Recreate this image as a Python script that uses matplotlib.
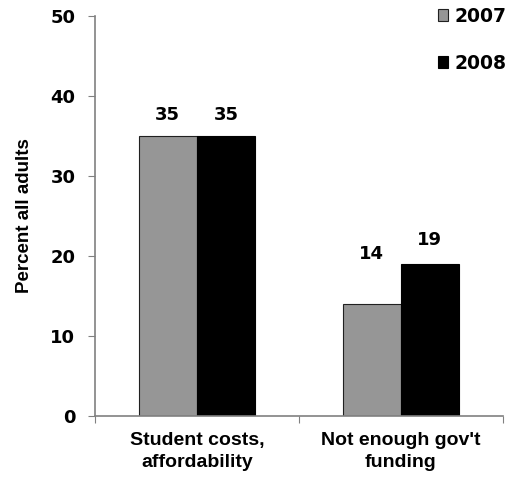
# -*- coding: utf-8 -*-

# import libraries
import numpy as np
import matplotlib.pyplot as plt

# set some parametres
plt.rcParams['font.family'] = ['Liberation Sans', 'DejaVu Sans']
plt.rcParams['font.weight'] = 'bold'
plt.rcParams['savefig.facecolor'] = 'white'
num_font = 'DejaVu Sans'

# data
categories = ["Student costs,\naffordability", "Not enough gov't\nfunding"]
years = ["2007", "2008"]
values_2007 = [35, 14]
values_2008 = [35, 19]
colors = ["#969696", "#000000"]

# create the figure
fig = plt.figure(figsize=(5.1, 4.79), dpi=100)
ax = fig.add_axes([0.186, 0.131, 0.8, 0.836])

x = np.arange(len(categories))
w = 0.285
bars1 = ax.bar(x - w/2, values_2007, w, color=colors[0], edgecolor="#202020", linewidth=0.8, label=years[0])
bars2 = ax.bar(x + w/2, values_2008, w, color=colors[1], edgecolor="#000000", linewidth=0.8, label=years[1])

# value labels (the short grey bar has its label lifted higher)
offsets = [[15, 36], [15, 17]]
for i, (b1, b2) in enumerate(zip(bars1, bars2)):
    for j, b in enumerate([b1, b2]):
        ax.annotate(str(int(b.get_height())), (b.get_x() + b.get_width()/2, b.get_height()),
                    xytext=(0, offsets[j][i]), textcoords="offset points",
                    ha="center", va="center", fontsize=13, fontweight="bold", family=num_font)

# axes
ax.set_xlim(-0.5, 1.5)
ax.set_ylim(0, 50)
ax.set_yticks(range(0, 51, 10))
ax.set_xticks([-0.5, 0.5, 1.5])
ax.set_xticklabels([])
ax.set_xticks(x, minor=True)
ax.set_xticklabels(categories, minor=True, fontsize=14, fontweight="bold", linespacing=1.45)
ax.tick_params(axis="x", which="minor", length=0, pad=11)
ax.tick_params(axis="x", which="major", length=5, color="#808080", direction="out")
ax.tick_params(axis="y", length=5, color="#808080", direction="out", pad=9)
for lbl in ax.get_yticklabels():
    lbl.set_fontweight("bold")
    lbl.set_family(num_font)
    lbl.set_fontsize(13)
for s in ["top", "right"]:
    ax.spines[s].set_visible(False)
for s in ["left", "bottom"]:
    ax.spines[s].set_color("#808080")
    ax.spines[s].set_linewidth(1.2)
ax.set_ylabel("Percent all adults", fontsize=13.5, fontweight="bold")
ax.yaxis.set_label_coords(-0.152, 0.5)

# legend
leg = ax.legend(loc="upper right", bbox_to_anchor=(1.05, 1.065), frameon=False,
                handlelength=0.55, handleheight=0.55, handletextpad=0.35, labelspacing=1.5,
                prop={"weight": "bold", "size": 13.5, "family": num_font})

plt.savefig("out.png", dpi=100)
